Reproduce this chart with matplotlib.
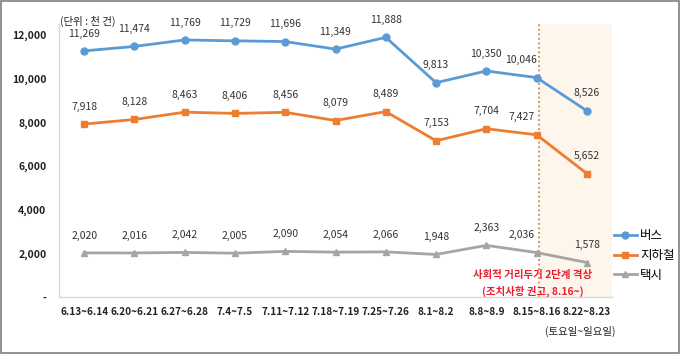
import matplotlib
matplotlib.use("Agg")
import matplotlib.pyplot as plt
from matplotlib.patches import Rectangle

plt.rcParams['font.family'] = ['Noto Sans CJK KR', 'DejaVu Sans']

categories = ["6.13~6.14", "6.20~6.21", "6.27~6.28", "7.4~7.5", "7.11~7.12", "7.18~7.19",
              "7.25~7.26", "8.1~8.2", "8.8~8.9", "8.15~8.16", "8.22~8.23"]
bus = [11269, 11474, 11769, 11729, 11696, 11349, 11888, 9813, 10350, 10046, 8526]
subway = [7918, 8128, 8463, 8406, 8456, 8079, 8489, 7153, 7704, 7427, 5652]
taxi = [2020, 2016, 2042, 2005, 2090, 2054, 2066, 1948, 2363, 2036, 1578]
series_names = ["버스", "지하철", "택시"]
yticks = [0, 2000, 4000, 6000, 8000, 10000, 12000]

colors = ["#5B9BD5", "#ED7D31", "#A5A5A5"]
markers = ["o", "s", "^"]

fig = plt.figure(figsize=(6.8, 3.54), dpi=100)
ax = fig.add_axes([59/680, 1-297/354, (612-59)/680, (297-24)/354])
x = list(range(len(categories)))
n = len(categories)
ax.set_xlim(-0.5, n - 0.5)
ax.set_ylim(0, 12500)

# shaded region for last period
ax.axvspan(n - 2 + 0.05, n - 0.5, color="#FEF5EC", zorder=0, lw=0)
ax.axvline(n - 2 + 0.05, color="#C98A55", ls=(0, (1, 1.5)), lw=1.3, zorder=1)

for vals, name, c, m in zip([bus, subway, taxi], series_names, colors, markers):
    ax.plot(x, vals, color=c, marker=m, markersize=5, lw=2, label=name, zorder=3)
    for i, v in enumerate(vals):
        dx = -11 if i == n - 2 else 0
        ax.annotate(f"{v:,}", (i, v), xytext=(dx, 12.5), textcoords="offset points",
                    ha="center", va="center", fontsize=7.5, color="#333333")

ax.set_xticks(x)
ax.set_xticklabels(categories, fontsize=7.2, fontweight="bold", color="#222222")
ax.set_yticks(yticks)
ax.set_yticklabels(["-" if v == 0 else f"{v:,}" for v in yticks], fontsize=7.5,
                   fontweight="bold", color="#222222")
ax.tick_params(length=0)
ax.tick_params(axis="x", pad=7)
ax.tick_params(axis="y", pad=9)
for s in ["top", "right"]:
    ax.spines[s].set_visible(False)
for s in ["left", "bottom"]:
    ax.spines[s].set_color("#D9D9D9")
    ax.spines[s].set_linewidth(1)

fig.text(60/680, 1-21/354, "(단위 : 천 건)", fontsize=7.5, ha="left", va="center", color="#222222")
fig.text(533/680, 1-275/354, "사회적 거리두기 2단계 격상", fontsize=7.5, ha="center", va="center",
         color="#E8202E", fontweight="bold")
fig.text(533/680, 1-291/354, "(조치사항 권고, 8.16~)", fontsize=7.5, ha="center", va="center",
         color="#E8202E", fontweight="bold")
fig.text(580/680, 1-331/354, "(토요일~일요일)", fontsize=7.5, ha="center", va="center", color="#222222")

leg = fig.legend(loc="upper left", bbox_to_anchor=(614/680, 1-229/354), frameon=False,
                 fontsize=9, handlelength=1.8, handletextpad=0.3, labelspacing=0.55,
                 borderaxespad=0, borderpad=0)

fig.patches.append(Rectangle((0.002, 0.004), 0.996, 0.992, transform=fig.transFigure,
                             fill=False, edgecolor="#7F7F7F", lw=1.2))

fig.savefig("out.png", dpi=100)
